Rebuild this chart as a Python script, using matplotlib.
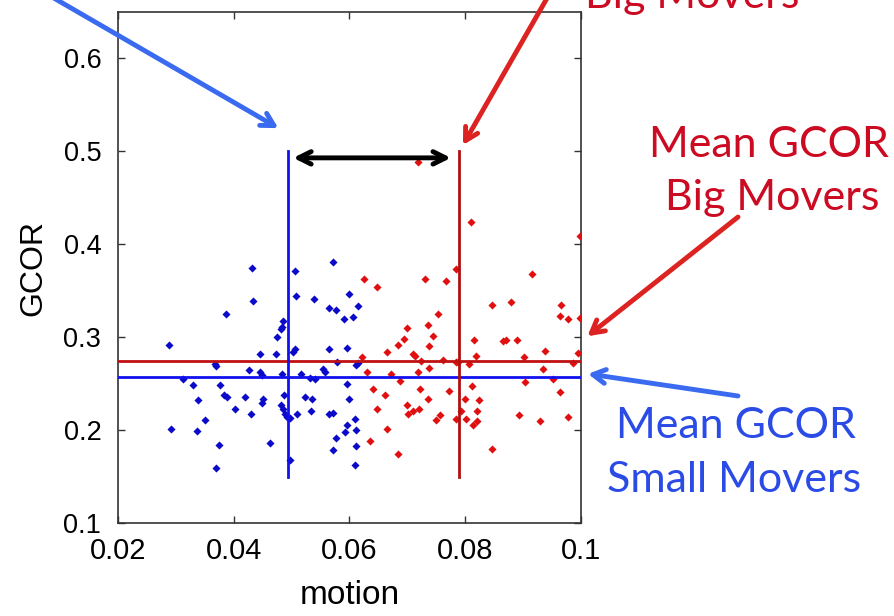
import matplotlib
matplotlib.use("Agg")
import matplotlib.pyplot as plt

# Small movers (blue)
small_motion = [0.0431, 0.0433, 0.0387, 0.0505, 0.0508, 0.0539, 0.0572, 0.0564, 0.0577, 0.0485,
                0.0483, 0.0482, 0.0475, 0.0288, 0.0505, 0.0503, 0.0564, 0.0446, 0.0473, 0.0368,
                0.0370, 0.0427, 0.0445, 0.0449, 0.0484, 0.0517, 0.0554, 0.0558, 0.0313, 0.0532,
                0.0541, 0.0579, 0.0329, 0.0377, 0.0383, 0.0389, 0.0419, 0.0487, 0.0450, 0.0449,
                0.0523, 0.0535, 0.0339, 0.0403, 0.0481, 0.0485, 0.0489, 0.0492, 0.0497, 0.0430,
                0.0510, 0.0534, 0.0564, 0.0571, 0.0351, 0.0291, 0.0337, 0.0577, 0.0374, 0.0463,
                0.0572, 0.0497, 0.0369, 0.0599, 0.0614, 0.0590, 0.0606, 0.0595, 0.0612, 0.0614,
                0.0596, 0.0599, 0.0609, 0.0596, 0.0593, 0.0612, 0.0612, 0.0609]
small_gcor = [0.3741, 0.3391, 0.3245, 0.3709, 0.3444, 0.3412, 0.3813, 0.3313, 0.3295, 0.3177,
              0.3106, 0.3088, 0.3002, 0.2917, 0.2871, 0.2845, 0.2871, 0.2820, 0.2820, 0.2713,
              0.2695, 0.2652, 0.2624, 0.2588, 0.2606, 0.2606, 0.2660, 0.2624, 0.2553, 0.2560,
              0.2553, 0.2731, 0.2488, 0.2488, 0.2374, 0.2357, 0.2357, 0.2374, 0.2338, 0.2292,
              0.2357, 0.2338, 0.2320, 0.2224, 0.2267, 0.2231, 0.2178, 0.2142, 0.2135, 0.2178,
              0.2178, 0.2207, 0.2178, 0.2188, 0.2106, 0.2010, 0.1993, 0.1910, 0.1838, 0.1864,
              0.1782, 0.1678, 0.1596, 0.3463, 0.3331, 0.3195, 0.3213, 0.2881, 0.2702, 0.2724,
              0.2499, 0.2338, 0.2124, 0.2052, 0.1982, 0.2006, 0.1828, 0.1624]

# Big movers (red)
big_motion = [0.0784, 0.0916, 0.0625, 0.0730, 0.0766, 0.0647, 0.0847, 0.0879, 0.0965, 0.0964,
              0.0978, 0.0999, 0.0753, 0.0735, 0.0700, 0.0745, 0.0694, 0.0684, 0.0737, 0.0815,
              0.0866, 0.0870, 0.0890, 0.0665, 0.0709, 0.0714, 0.0938, 0.0994, 0.0622, 0.0724,
              0.0818, 0.0901, 0.0762, 0.0784, 0.0788, 0.0807, 0.0987, 0.0631, 0.0672, 0.0737,
              0.0718, 0.0935, 0.0688, 0.0951, 0.0903, 0.0812, 0.0641, 0.0721, 0.0772, 0.0964,
              0.0662, 0.0735, 0.0799, 0.0824, 0.0700, 0.0647, 0.0720, 0.0701, 0.0709, 0.0792,
              0.0820, 0.0756, 0.0749, 0.0893, 0.0978, 0.0784, 0.0801, 0.0820, 0.0814, 0.0930,
              0.0665, 0.0636, 0.0847, 0.0684, 0.0718, 0.0810, 0.0999]
big_gcor = [0.3730, 0.3677, 0.3623, 0.3623, 0.3609, 0.3541, 0.3348, 0.3380, 0.3345, 0.3230,
            0.3195, 0.3209, 0.3248, 0.3131, 0.3095, 0.3016, 0.2981, 0.2917, 0.2903, 0.2967,
            0.2963, 0.2973, 0.2973, 0.2838, 0.2820, 0.2802, 0.2856, 0.2831, 0.2785, 0.2748,
            0.2802, 0.2785, 0.2759, 0.2731, 0.2738, 0.2713, 0.2724, 0.2624, 0.2606, 0.2670,
            0.2624, 0.2660, 0.2524, 0.2545, 0.2517, 0.2474, 0.2438, 0.2438, 0.2417, 0.2410,
            0.2374, 0.2338, 0.2338, 0.2320, 0.2274, 0.2224, 0.2224, 0.2178, 0.2202, 0.2202,
            0.2202, 0.2160, 0.2106, 0.2160, 0.2142, 0.2124, 0.2124, 0.2095, 0.2060, 0.2095,
            0.2010, 0.1881, 0.1796, 0.1742, 0.4884, 0.4237, 0.4087]

small_mean_motion = 0.0493
big_mean_motion = 0.0789
small_mean_gcor = 0.2567
big_mean_gcor = 0.2746
vline_range = [0.15, 0.5]

xticks = [0.02, 0.04, 0.06, 0.08, 0.1]
xticklabels = ["0.02", "0.04", "0.06", "0.08", "0.1"]
yticks = [0.1, 0.2, 0.3, 0.4, 0.5, 0.6]
yticklabels = ["0.1", "0.2", "0.3", "0.4", "0.5", "0.6"]

plt.rcParams['font.family'] = ['Liberation Sans', 'DejaVu Sans']

W, H = 895, 616
fig = plt.figure(figsize=(W / 100, H / 100), dpi=100)
ax = fig.add_axes([118 / W, 1 - 523 / H, (581 - 118) / W, (523 - 12) / H])

ax.scatter(small_motion, small_gcor, marker='D', s=17, color='#0a0ac8', linewidths=0, zorder=3)
ax.scatter(big_motion, big_gcor, marker='D', s=17, color='#e01010', linewidths=0, zorder=3)

ax.axhline(big_mean_gcor, color='#c01010', lw=2, zorder=4)
ax.axhline(small_mean_gcor, color='#1010f0', lw=2, zorder=4)
ax.plot([small_mean_motion, small_mean_motion], vline_range, color='#1010f0', lw=2, zorder=4)
ax.plot([big_mean_motion, big_mean_motion], vline_range, color='#b01010', lw=2, zorder=4)

ax.set_xlim(0.02, 0.1)
ax.set_ylim(0.1, 0.65)
ax.set_xticks(xticks)
ax.set_xticklabels(xticklabels)
ax.set_yticks(yticks)
ax.set_yticklabels(yticklabels)
ax.tick_params(axis='both', direction='in', length=5, width=1,
               top=True, right=True, colors='#333333', labelcolor='black')
ax.tick_params(axis='x', labelsize=21, pad=10)
ax.tick_params(axis='y', labelsize=19.5, pad=12)
for sp in ax.spines.values():
    sp.set_color('#333333')
    sp.set_linewidth(1.2)
ax.set_xlabel("motion", fontsize=24, labelpad=11)
ax.set_ylabel("GCOR", fontsize=23, labelpad=11)

# black double arrow between means
ax.annotate('', xy=(big_mean_motion - 0.0009, 0.493), xytext=(small_mean_motion + 0.0005, 0.493),
            arrowprops=dict(arrowstyle='<->,head_length=0.9,head_width=0.45', lw=3.5, color='black'),
            zorder=5)

red_txt = '#cc0a22'
blue_txt = '#2b4be6'
red_arr = '#dd2222'
blue_arr = '#3a6af0'
ann_font = ['Lato', 'DejaVu Sans']
ann_size = 31
astyle = '->,head_length=0.9,head_width=0.5'

# top arrows from labels above the frame
ax.annotate('', xy=(0.0477, 0.525), xycoords='data', xytext=(0.058, 1.005), textcoords='figure fraction',
            arrowprops=dict(arrowstyle=astyle, lw=3.5, color=blue_arr, shrinkA=0, shrinkB=0),
            annotation_clip=False)
ax.annotate('', xy=(0.0796, 0.5068), xycoords='data', xytext=(0.612, 1.005), textcoords='figure fraction',
            arrowprops=dict(arrowstyle=astyle, lw=3.5, color=red_arr, shrinkA=0, shrinkB=0),
            annotation_clip=False)
fig.text(692 / W, 1 - 8 / H, "Big Movers", color=red_txt, fontsize=ann_size, family=ann_font,
         ha='center', va='baseline')

# right annotations
fig.text(769 / W, 1 - 157 / H, "Mean GCOR", color=red_txt, fontsize=ann_size,
         family=ann_font, ha='center', va='baseline')
fig.text(772 / W, 1 - 210 / H, "Big Movers", color=red_txt, fontsize=ann_size,
         family=ann_font, ha='center', va='baseline')
fig.text(736 / W, 1 - 438 / H, "Mean GCOR", color=blue_txt, fontsize=ann_size,
         family=ann_font, ha='center', va='baseline')
fig.text(734 / W, 1 - 492 / H, "Small Movers", color=blue_txt, fontsize=ann_size,
         family=ann_font, ha='center', va='baseline')

ax.annotate('', xy=(0.1011, 0.301), xycoords='data', xytext=(738 / W, 1 - 217 / H),
            textcoords='figure fraction',
            arrowprops=dict(arrowstyle=astyle, lw=3.5, color=red_arr, shrinkA=0, shrinkB=0),
            annotation_clip=False)
ax.annotate('', xy=(0.1012, 0.2605), xycoords='data', xytext=(738 / W, 1 - 396 / H),
            textcoords='figure fraction',
            arrowprops=dict(arrowstyle=astyle, lw=3.5, color=blue_arr, shrinkA=0, shrinkB=0),
            annotation_clip=False)

fig.savefig("out.png", dpi=100)
